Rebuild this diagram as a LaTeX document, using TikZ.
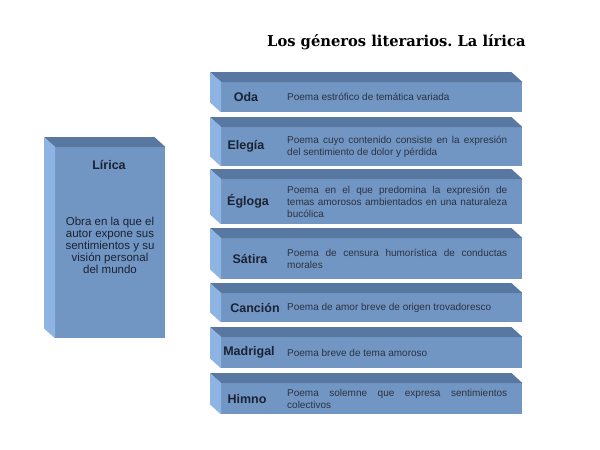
\documentclass[tikz,border=0pt]{standalone}
\usepackage{fontspec}
\setmainfont{Liberation Sans}
\newfontfamily\titlefont{DejaVu Serif Bold}[FakeStretch=0.98]
\usetikzlibrary{positioning}

\definecolor{cara}{HTML}{7196C3}
\definecolor{tapa}{HTML}{5878A2}
\definecolor{lado}{HTML}{8DB4E2}
\definecolor{letra}{HTML}{1B2233}
\definecolor{gris}{HTML}{2C3242}

\hyphenpenalty=10000
\exhyphenpenalty=10000
\frenchspacing

\begin{document}
\begin{tikzpicture}[x=1pt, y=-1pt,
  bloque/.style={fill=cara, inner sep=0pt, minimum width=301pt, anchor=north west},
  genero/.style={text=letra, font=\bfseries\fontsize{12.5}{14}\selectfont},
  definicion/.style={text=gris, inner sep=0pt, text width=220pt, align=justify,
    font=\fontsize{10}{12}\selectfont}]

  \useasboundingbox (0,0) rectangle (600,450);

  \node[font=\titlefont\fontsize{15}{18}\selectfont, anchor=base west, inner sep=0pt]
    (titulo) at (267,46) {Los géneros literarios. La lírica};

  % bloque de la izquierda
  \node[bloque, minimum width=110pt, minimum height=191pt] (lirica) at (55,147) {};
  \node[genero] (lirica-n) at (109,165) {Lírica};
  \node[text=letra, align=center, font=\fontsize{11.5}{12}\selectfont] (lirica-d) at (110,245)
    {Obra en la que el\\autor expone sus\\sentimientos y su\\visión personal\\del mundo};

  % bloques de la derecha
  \node[bloque, minimum height=30pt] (oda) at (221,82) {};
  \node[bloque, minimum height=39pt] (elegia) at (221,127) {};
  \node[bloque, minimum height=45pt] (egloga) at (221,179) {};
  \node[bloque, minimum height=41pt] (satira) at (221,238) {};
  \node[bloque, minimum height=29pt] (cancion) at (221,293) {};
  \node[bloque, minimum height=31pt] (madrigal) at (221,337) {};
  \node[bloque, minimum height=31pt] (himno) at (221,383) {};

  \foreach \b in {lirica,oda,elegia,egloga,satira,cancion,madrigal,himno} {
    \fill[tapa] (\b.north west) -- ++(-11,-10) -- ([shift={(-11,-10)}]\b.north east)
      -- (\b.north east) -- cycle;
    \fill[lado] (\b.north west) -- ++(-11,-10) -- ([shift={(-11,-10)}]\b.south west)
      -- (\b.south west) -- cycle;
  }

  \node[genero] (oda-n) at ([xshift=25pt]oda.west) {Oda};
  \node[genero] (elegia-n) at ([xshift=25pt]elegia.west) {Elegía};
  \node[genero] (egloga-n) at ([xshift=27pt]egloga.west) {Égloga};
  \node[genero] (satira-n) at ([xshift=29pt]satira.west) {Sátira};
  \node[genero] (cancion-n) at ([xshift=34pt]cancion.west) {Canción};
  \node[genero] (madrigal-n) at ([xshift=28pt]madrigal.west) {Madrigal};
  \node[genero] (himno-n) at ([xshift=26pt]himno.west) {Himno};

  \node[definicion, right=66pt of oda.west] (oda-d) {Poema estrófico de temática variada};
  \node[definicion, right=66pt of elegia.west] (elegia-d)
    {Poema cuyo contenido consiste en la expresión del sentimiento de dolor y pérdida};
  \node[definicion, right=66pt of egloga.west] (egloga-d)
    {Poema en el que predomina la expresión de temas amorosos ambientados en una naturaleza bucólica};
  \node[definicion, right=66pt of satira.west] (satira-d)
    {Poema de censura humorística de conductas morales};
  \node[definicion, right=66pt of cancion.west] (cancion-d)
    {Poema de amor breve de origen trovadoresco};
  \node[definicion, right=66pt of madrigal.west] (madrigal-d)
    {Poema breve de tema amoroso};
  \node[definicion, right=66pt of himno.west] (himno-d)
    {Poema solemne que expresa sentimientos colectivos};

\end{tikzpicture}
\end{document}
